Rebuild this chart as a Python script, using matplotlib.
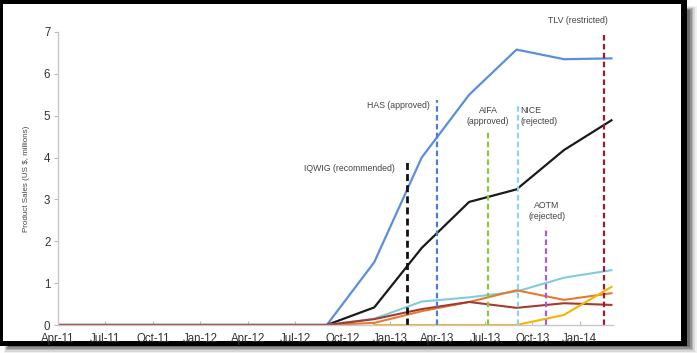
import matplotlib
matplotlib.use("Agg")
from matplotlib import pyplot as plt
from matplotlib.patches import Rectangle

plt.rcParams['font.family'] = ['Liberation Sans', 'DejaVu Sans']

# months counted from Apr-11 (= 0), quarterly sales points
months = [0, 17, 20, 23, 26, 29, 32, 35]
tick_pos = [0, 3, 6, 9, 12, 15, 18, 21, 24, 27, 30, 33]
tick_labels = ["Apr-11", "Jul-11", "Oct-11", "Jan-12", "Apr-12", "Jul-12",
               "Oct-12", "Jan-13", "Apr-13", "Jul-13", "Oct-13", "Jan-14"]

blue = [0, 0, 1.5, 4.0, 5.5, 6.58, 6.35, 6.37]
black = [0, 0, 0.42, 1.84, 2.94, 3.24, 4.18, 4.89]
cyan = [0, 0, 0.15, 0.56, 0.66, 0.8, 1.13, 1.31]
orange = [0, 0, 0.05, 0.33, 0.55, 0.83, 0.6, 0.76]
darkred = [0, 0, 0.14, 0.38, 0.55, 0.41, 0.52, 0.48]
yellow_months = [20, 23, 26, 29, 32, 35]
yellow = [0, 0, 0, 0, 0.24, 0.91]

# HTA decisions: month position, top of marker line, colour
events = ["IQWIG", "HAS", "AIFA", "NICE", "AOTM", "TLV"]
event_x = [22.07, 24.0, 27.2, 29.07, 30.84, 34.56]
event_top = [3.95, 5.37, 4.63, 5.23, 2.34, 6.97]
event_col = ["#111111", "#4a7fd4", "#8cc63f", "#8fd3e3", "#a35fd0", "#9b1b30"]

fig = plt.figure(figsize=(6.97, 3.53), dpi=100)

# screenshot frame with shadow
W, H = 697.0, 353.0
def px_rect(x0, y0, x1, y1, **kw):
    r = Rectangle((x0 / W, 1 - y1 / H), (x1 - x0) / W, (y1 - y0) / H,
                  transform=fig.transFigure, **kw)
    fig.patches.append(r)
for i, a in enumerate([0.06, 0.1, 0.15, 0.2, 0.25]):
    px_rect(4 + i, 6 + i, 697 - i * 1.8, 353 - i * 1.5, facecolor="black",
            alpha=a, edgecolor="none", zorder=0)
px_rect(0, 0, 687, 346, facecolor="black", edgecolor="none", zorder=1)
px_rect(3, 4, 681, 341, facecolor="white", edgecolor="none", zorder=2)

ax = fig.add_axes([58 / W, 1 - 325 / H, (613 - 58) / W, (325 - 32) / H])
ax.set_facecolor("none")
ax.set_zorder(3)

ax.plot(months, blue, color="#5b8fdb", lw=1.6)
ax.plot(months, black, color="#1a1a1a", lw=1.6)
ax.plot(months, cyan, color="#82cbdb", lw=1.5)
ax.plot(months, orange, color="#e57a30", lw=1.5)
ax.plot(months, darkred, color="#a33b30", lw=1.5)
ax.plot(yellow_months, yellow, color="#f7b500", lw=1.5)

for x, top, c in zip(event_x, event_top, event_col):
    lw = 2.0 if c == "#111111" else 1.6
    ax.plot([x, x], [0, top], color=c, lw=lw, ls=(0, (2.5, 1.5)))

tc = "#444444"
fs = 6.3
ax.text(18.4, 3.75, "IQWIG (recommended)", ha="center", va="center", fontsize=fs, color=tc)
ax.text(21.5, 5.25, "HAS (approved)", ha="center", va="center", fontsize=fs, color=tc)
ax.text(27.2, 4.99, "AIFA\n(approved)", ha="center", va="center", fontsize=fs, color=tc, linespacing=1.3)
ax.text(29.25, 4.99, "NICE\n(rejected)", ha="left", va="center", fontsize=fs, color=tc, linespacing=1.3)
ax.text(30.9, 2.72, "AOTM\n(rejected)", ha="center", va="center", fontsize=fs, color=tc, linespacing=1.3)
ax.text(32.9, 7.28, "TLV (restricted)", ha="center", va="center", fontsize=fs, color=tc, clip_on=False)

ax.set_xlim(0, 35.1)
ax.set_ylim(0, 7)
ax.set_xticks(tick_pos)
ax.set_xticklabels(tick_labels)
ax.set_yticks(range(8))
ax.tick_params(axis="both", labelsize=8.3, colors="#bbbbbb", labelcolor="#333333",
               length=3, width=0.8, pad=2.5)
ax.tick_params(axis="x", direction="in", pad=6)
for s in ["top", "right"]:
    ax.spines[s].set_visible(False)
for s in ["left", "bottom"]:
    ax.spines[s].set_color("#c8c8c8")
    ax.spines[s].set_linewidth(1.0)

ax.set_ylabel("Product Sales (US $, millions)", fontsize=5.8, color=tc, labelpad=10)

fig.savefig("out.png", dpi=100)
